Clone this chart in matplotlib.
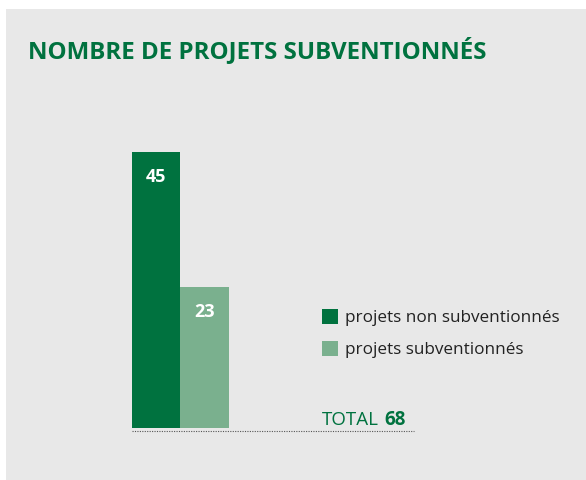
import matplotlib.pyplot as plt
from matplotlib.patches import Rectangle
from matplotlib.lines import Line2D

title = "NOMBRE DE PROJETS SUBVENTIONNÉS"
categories = ["projets non subventionnés", "projets subventionnés"]
values = [45, 23]
total = 68

dark_green = "#00723f"
light_green = "#7ab08e"
colors = [dark_green, light_green]

W, H = 586, 480
fig = plt.figure(figsize=(W / 100, H / 100), dpi=100)
fig.patch.set_facecolor("white")

# grey panel
fig.patches.append(Rectangle((6 / W, 0), 1 - 6 / W, (H - 9) / H,
                             transform=fig.transFigure, facecolor="#e8e8e8",
                             edgecolor="none", zorder=-1))

# bars
x0, x1 = 131.7, 229
base, top = 428, 152
ax = fig.add_axes([x0 / W, (H - base) / H, (x1 - x0) / W, (base - top) / H])
ax.set_zorder(2)
ax.set_facecolor("none")
ax.bar(range(len(values)), values, width=1, align="edge", color=colors)
ax.set_xlim(0, len(values))
ax.set_ylim(0, max(values))
ax.axis("off")
for i, v in enumerate(values):
    ax.annotate(str(v), (i + 0.5, v), xytext=(0, -30), textcoords="offset pixels",
                ha="center", va="baseline", color="white",
                fontsize=13, fontweight="bold", family="Open Sans")

# dotted baseline
fig.lines.append(Line2D([132 / W, 414 / W], [(H - 431) / H] * 2,
                        transform=fig.transFigure, color="#555555",
                        lw=0.8, ls=(0, (1, 1.2))))

# title
fig.text(28 / W, (H - 58) / H, title, color=dark_green, fontsize=17.4,
         fontweight="bold", family="Open Sans", va="baseline", ha="left")

# legend
for i, (lab, c) in enumerate(zip(categories, colors)):
    yc = 317 + i * 32
    fig.patches.append(Rectangle((322 / W, (H - yc - 7) / H), 16 / W, 15 / H,
                                 transform=fig.transFigure, facecolor=c,
                                 edgecolor="none"))
    fig.text(345 / W, (H - yc - 5) / H, lab, color="#222222", fontsize=12.3,
             family="Open Sans", va="baseline", ha="left")

# total
t = fig.text(322 / W, (H - 425) / H, "TOTAL", color=dark_green, fontsize=13.5,
             family="Open Sans", va="baseline", ha="left")
fig.canvas.draw()
bb = t.get_window_extent()
fig.text((bb.x1 + 5) / W, (H - 425) / H, str(total), color=dark_green,
         fontsize=13.5, fontweight="bold", family="Open Sans",
         va="baseline", ha="left")

fig.savefig("out.png", dpi=100, facecolor=fig.get_facecolor())
